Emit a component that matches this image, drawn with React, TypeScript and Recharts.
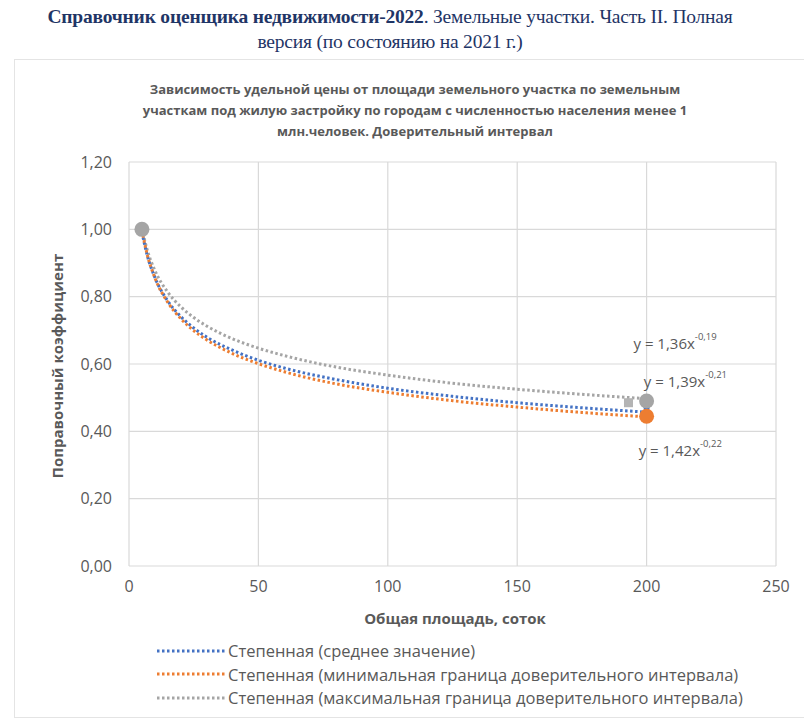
import { ComposedChart, Line, Scatter, XAxis, YAxis, CartesianGrid, ReferenceDot } from 'recharts';

// площадь, соток
const area = [5, 7, 10, 15, 20, 25, 30, 40, 50, 60, 80, 100, 125, 150, 175, 200];
// степенные тренды
const meanLine = [0.991, 0.924, 0.857, 0.787, 0.741, 0.707, 0.68, 0.641, 0.611, 0.588, 0.554, 0.528, 0.504, 0.485, 0.47, 0.457];
const minLine = [0.997, 0.926, 0.856, 0.783, 0.735, 0.699, 0.672, 0.631, 0.601, 0.577, 0.541, 0.516, 0.491, 0.472, 0.456, 0.443];
const maxLine = [1.002, 0.94, 0.878, 0.813, 0.77, 0.738, 0.713, 0.675, 0.647, 0.625, 0.591, 0.567, 0.543, 0.525, 0.51, 0.497];

// исходные точки
const grayPoints = [{ x: 5, y: 1.0 }, { x: 200, y: 0.49 }];
const grayTail = [{ x: 193, y: 0.485 }];
const bluePoints = [{ x: 200, y: 0.47 }];
const orangePoints = [{ x: 200, y: 0.445 }];

const xTicks = [0, 50, 100, 150, 200, 250];
const yTicks = [0, 0.2, 0.4, 0.6, 0.8, 1.0, 1.2];

const equations = [
  { x: 211, y: 0.663, k: '1,36', p: '-0,19' },
  { x: 215, y: 0.55, k: '1,39', p: '-0,21' },
  { x: 213, y: 0.345, k: '1,42', p: '-0,22' },
];

const BLUE = '#4472c4';
const ORANGE = '#ed7d31';
const GRAY = '#a5a5a5';
const TXT = '#595959';
const SANS = '"Open Sans", "Liberation Sans", sans-serif';

const rows = area.map((x, i) => ({ x, mean: meanLine[i], min: minLine[i], max: maxLine[i] }));

const legendItems = [
  { color: BLUE, name: 'Степенная (среднее значение)' },
  { color: ORANGE, name: 'Степенная (минимальная граница доверительного интервала)' },
  { color: GRAY, name: 'Степенная (максимальная граница доверительного интервала)' },
];

function EqLabel(props: any) {
  const { viewBox, k, p } = props;
  const cx = viewBox.x + (viewBox.width || 0) / 2;
  const cy = viewBox.y + (viewBox.height || 0) / 2;
  return (
    <text x={cx} y={cy} textAnchor="middle" dominantBaseline="central" fill={TXT} fontFamily={SANS} fontSize={15}>
      {'y = ' + k + 'x'}
      <tspan dy={-7} fontSize={9.5}>{p}</tspan>
    </text>
  );
}

const dot = (r: number, color: string) => (props: any) => <circle cx={props.cx} cy={props.cy} r={r} fill={color} />;
const square = (s: number, color: string) => (props: any) => (
  <rect x={props.cx - s / 2} y={props.cy - s / 2} width={s} height={s} fill={color} />
);

export default function App() {
  return (
    <div style={{ position: 'relative', width: 804, height: 721, background: '#fff', overflow: 'hidden' }}>
      <style>{'body{margin:0}'}</style>
      <div style={{ position: 'absolute', left: 0, top: 4, width: 780, textAlign: 'center', fontFamily: '"Liberation Serif", serif', fontSize: 19.5, lineHeight: '25px', color: '#1f3566', letterSpacing: -0.2 }}>
        <b>Справочник оценщика недвижимости-2022</b>. Земельные участки. Часть II. Полная
        <br />
        версия (по состоянию на 2021 г.)
      </div>
      <div style={{ position: 'absolute', left: 14, top: 59, width: 800, height: 659, border: '1px solid #e4e4e4', boxSizing: 'border-box' }} />
      <div style={{ position: 'absolute', left: 0, top: 79, width: 830, textAlign: 'center', fontFamily: SANS, fontWeight: 700, fontSize: 13, lineHeight: '21px', color: TXT }}>
        Зависимость удельной цены от площади земельного участка по земельным
        <br />
        участкам под жилую застройку по городам с численностью населения менее 1
        <br />
        млн.человек. Доверительный интервал
      </div>

      <div style={{ position: 'absolute', left: 0, top: 0 }}>
        <ComposedChart width={804} height={721} data={rows} margin={{ top: 162, right: 28, bottom: 125, left: 49 }}>
          <CartesianGrid stroke="#d9d9d9" strokeWidth={1.2} horizontalValues={yTicks} verticalValues={xTicks} />
          <XAxis
            dataKey="x"
            type="number"
            domain={[0, 250]}
            ticks={xTicks}
            axisLine={false}
            tickLine={false}
            tickSize={0}
            tickMargin={15}
            height={30}
            tick={{ fill: TXT, fontSize: 16, fontFamily: SANS }}
          />
          <YAxis
            dataKey="y"
            type="number"
            domain={[0, 1.2]}
            ticks={yTicks}
            axisLine={false}
            tickLine={false}
            tickSize={0}
            tickMargin={17}
            width={80}
            tickFormatter={(v: number) => v.toFixed(2).replace('.', ',')}
            tick={{ fill: TXT, fontSize: 16, fontFamily: SANS }}
          />
          <Line dataKey="max" type="monotone" stroke={GRAY} strokeWidth={3} strokeDasharray="2.5 2.5" dot={false} isAnimationActive={false} />
          <Line dataKey="mean" type="monotone" stroke={BLUE} strokeWidth={3} strokeDasharray="2.5 2.5" dot={false} isAnimationActive={false} />
          <Line dataKey="min" type="monotone" stroke={ORANGE} strokeWidth={3} strokeDasharray="2.5 2.5" dot={false} isAnimationActive={false} />
          <Scatter data={grayTail} shape={square(9, '#b4b4b4')} isAnimationActive={false} />
          <Scatter data={bluePoints} shape={dot(3, BLUE)} isAnimationActive={false} />
          <Scatter data={orangePoints} shape={dot(7.5, ORANGE)} isAnimationActive={false} />
          <Scatter data={grayPoints} shape={dot(7.5, GRAY)} isAnimationActive={false} />
          {equations.map((e) => (
            <ReferenceDot key={e.k} x={e.x} y={e.y} r={0} ifOverflow="visible" label={<EqLabel k={e.k} p={e.p} />} />
          ))}
        </ComposedChart>
      </div>

      <div style={{ position: 'absolute', left: 57, top: 366, transform: 'translate(-50%, -50%) rotate(-90deg)', whiteSpace: 'nowrap', fontFamily: SANS, fontWeight: 700, fontSize: 15, color: TXT }}>
        Поправочный коэффициент
      </div>
      <div style={{ position: 'absolute', left: 0, top: 608, width: 910, textAlign: 'center', fontFamily: SANS, fontWeight: 700, fontSize: 15, color: TXT }}>
        Общая площадь, соток
      </div>

      <div style={{ position: 'absolute', left: 155, top: 639 }}>
        {legendItems.map((it) => (
          <div key={it.name} style={{ display: 'flex', alignItems: 'center', height: 23.5 }}>
            <svg width={73} height={10}>
              <line x1={2} y1={5} x2={70} y2={5} stroke={it.color} strokeWidth={3} strokeDasharray="2.5 2.5" />
            </svg>
            <span style={{ fontFamily: SANS, fontSize: 16.5, color: TXT, whiteSpace: 'nowrap' }}>{it.name}</span>
          </div>
        ))}
      </div>
    </div>
  );
}
